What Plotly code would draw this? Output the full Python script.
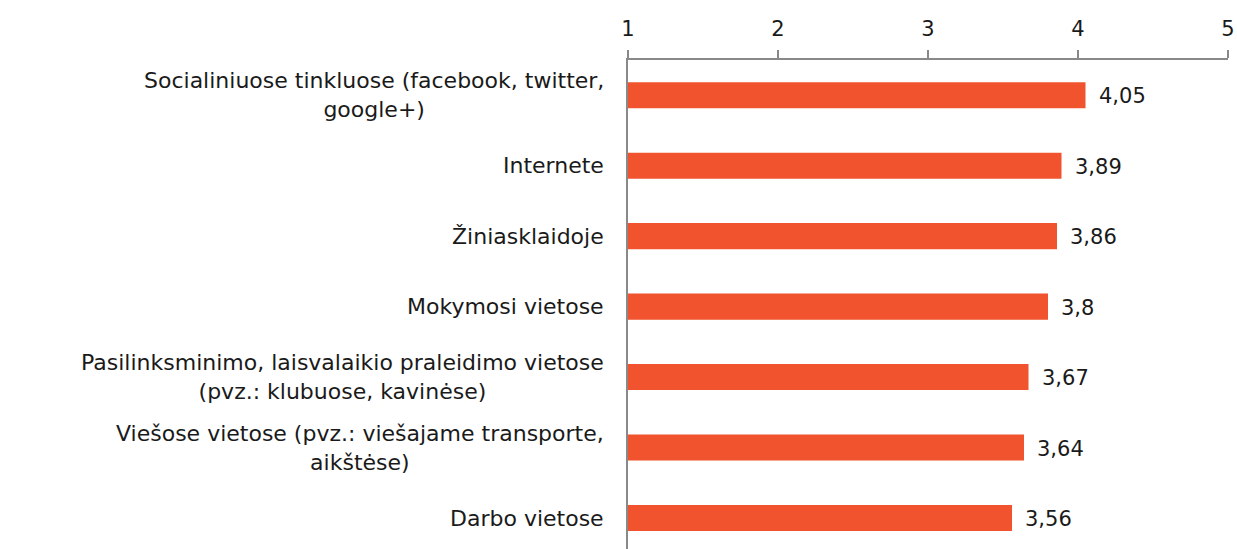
import plotly.graph_objects as go

categories = [
    "Socialiniuose tinkluose (facebook, twitter,<br>google+)",
    "Internete",
    "Žiniasklaidoje",
    "Mokymosi vietose",
    "Pasilinksminimo, laisvalaikio praleidimo vietose<br>(pvz.: klubuose, kavinėse)",
    "Viešose vietose (pvz.: viešajame transporte,<br>aikštėse)",
    "Darbo vietose",
]
values = [4.05, 3.89, 3.86, 3.8, 3.67, 3.64, 3.56]
value_labels = ["4,05", "3,89", "3,86", "3,8", "3,67", "3,64", "3,56"]
tick_vals = [1, 2, 3, 4, 5]

FONT = "DejaVu Sans"
BAR = "#F0532D"
AXIS = "#898989"
TXT = "#1a1a1a"

ypos = list(range(len(categories)))

fig = go.Figure(go.Bar(
    x=[v - 1 for v in values], base=1, y=ypos, orientation="h",
    marker=dict(color=BAR, line=dict(width=0)), width=0.37,
    hoverinfo="skip",
))

annotations = []
for i, (c, v, lab) in enumerate(zip(categories, values, value_labels)):
    annotations.append(dict(
        x=0, xref="paper", y=i, yref="y", text=c, showarrow=False,
        xanchor="right", yanchor="middle", align="center", xshift=-22,
        font=dict(family=FONT, size=22, color=TXT),
    ))
    annotations.append(dict(
        x=v, xref="x", y=i, yref="y", text=lab, showarrow=False,
        xanchor="left", yanchor="middle", xshift=11, yshift=-1,
        font=dict(family=FONT, size=21, color=TXT),
    ))

fig.update_layout(
    width=1237, height=549,
    margin=dict(l=628, r=9, t=60, b=0),
    paper_bgcolor="white", plot_bgcolor="white",
    showlegend=False,
    annotations=annotations,
    xaxis=dict(
        side="top", range=[1, 5], tickvals=tick_vals,
        ticktext=[str(t) for t in tick_vals],
        showgrid=False, zeroline=False, showline=True, linecolor=AXIS, linewidth=2,
        ticks="outside", ticklen=8, tickwidth=2, tickcolor=AXIS,
        tickfont=dict(family=FONT, size=21, color=TXT),
        ticklabelstandoff=6, ticklabeloverflow="allow",
    ),
    yaxis=dict(
        range=[6.44, -0.5], showticklabels=False, showgrid=False, zeroline=False,
        showline=True, linecolor=AXIS, linewidth=2, ticks="",
    ),
)

fig.write_html(
    "out.html",
    config={"displayModeBar": False},
    post_script="document.body.style.margin='0';document.body.style.overflow='hidden';",
)
